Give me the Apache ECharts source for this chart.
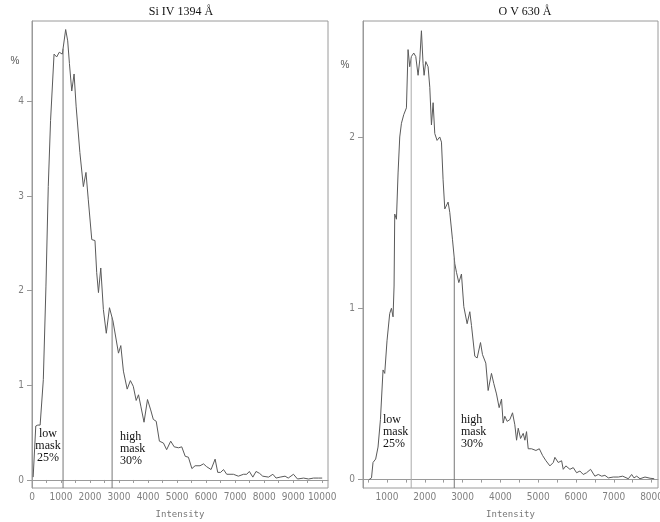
<!DOCTYPE html>
<html><head><meta charset="utf-8">
<script src="https://cdn.jsdelivr.net/npm/echarts@6/dist/echarts.min.js"></script>
<style>html,body{margin:0;padding:0;background:#fff}#c{width:660px;height:522px}</style>
</head><body><div id="c"></div>
<script>
// ---- Si IV 1394 Å histogram ----
const siIntensity = [40,130,200,280,390,480,560,640,760,850,940,1045,1160,1230,1290,1370,1450,1520,1650,1770,1860,1940,2060,2170,2230,2290,2370,2460,2560,2670,2790,2980,3060,3150,3280,3390,3490,3590,3670,3750,3860,3980,4090,4180,4280,4390,4530,4640,4780,4900,5050,5160,5280,5390,5510,5620,5790,5910,6020,6170,6310,6400,6500,6600,6710,6940,7110,7290,7400,7490,7610,7720,7840,7950,8150,8300,8410,8550,8720,8830,9010,9150,9360,9530,9700,9870,10000];
const siPercent   = [0.03,0.57,0.58,0.58,1.06,2.04,3.1,3.8,4.5,4.47,4.52,4.5,4.76,4.64,4.4,4.11,4.29,3.95,3.46,3.1,3.25,2.96,2.54,2.53,2.19,1.98,2.24,1.8,1.55,1.82,1.68,1.34,1.42,1.15,0.96,1.05,0.99,0.84,0.9,0.78,0.61,0.85,0.74,0.64,0.62,0.41,0.39,0.32,0.41,0.35,0.34,0.35,0.25,0.24,0.12,0.15,0.15,0.17,0.14,0.11,0.22,0.08,0.08,0.11,0.06,0.06,0.04,0.06,0.06,0.09,0.03,0.09,0.07,0.04,0.03,0.06,0.02,0.03,0.04,0.02,0.06,0.01,0.02,0.01,0.02,0.02,0.02];
// ---- O V 630 Å histogram ----
const ovIntensity = [525,590,630,700,763,826,895,940,1000,1072,1117,1160,1187,1205,1250,1293,1337,1382,1443,1514,1557,1602,1646,1708,1761,1822,1867,1911,1954,1981,2026,2087,2132,2176,2220,2264,2325,2396,2441,2484,2529,2574,2616,2661,2733,2794,2838,2900,2970,3032,3060,3120,3191,3235,3323,3385,3474,3526,3570,3614,3676,3764,3826,3897,3967,4030,4073,4117,4179,4250,4321,4382,4428,4472,4534,4604,4648,4692,4736,4824,4940,5030,5118,5206,5310,5400,5442,5530,5620,5663,5733,5840,5928,6016,6104,6192,6280,6386,6500,6590,6680,6765,6855,6985,7120,7235,7385,7473,7535,7606,7694,7826,7960,8070];
const ovPercent   = [0.0,0.01,0.10,0.12,0.19,0.35,0.64,0.62,0.81,0.97,1.0,0.95,1.13,1.55,1.52,1.79,2.0,2.08,2.13,2.17,2.51,2.41,2.47,2.49,2.47,2.36,2.45,2.62,2.43,2.36,2.44,2.41,2.29,2.07,2.2,2.02,1.98,2.0,1.97,1.75,1.58,1.57,1.62,1.56,1.40,1.26,1.21,1.15,1.20,1.01,1.0,0.91,0.98,0.90,0.72,0.71,0.80,0.73,0.74,0.68,0.52,0.62,0.56,0.50,0.42,0.47,0.33,0.37,0.34,0.35,0.39,0.32,0.23,0.30,0.24,0.27,0.23,0.28,0.18,0.18,0.17,0.18,0.14,0.11,0.08,0.10,0.13,0.10,0.11,0.06,0.08,0.06,0.07,0.04,0.05,0.03,0.04,0.06,0.02,0.03,0.02,0.025,0.01,0.015,0.015,0.02,0.005,0.03,0.01,0.02,0.005,0.015,0.008,0.005];
// mask thresholds (intensity)
const siMasks = [1070, 2760];
const ovMasks = [1640, 2780];
const maskLabels = ['low\nmask\n25%', 'high\nmask\n30%'];
const titles = ['Si IV 1394 Å', 'O V 630 Å'];
// ticks
const siXTicks  = [0,500,1000,1500,2000,2500,3000,3500,4000,4500,5000,5500,6000,6500,7000,7500,8000,8500,9000,9500,10000];
const siXLabels = [0,1000,2000,3000,4000,5000,6000,7000,8000,9000,10000];
const siYLabels = [0,1,2,3,4];
const ovXTicks  = [500,1000,1500,2000,2500,3000,3500,4000,4500,5000,5500,6000,6500,7000,7500,8000];
const ovXLabels = [1000,2000,3000,4000,5000,6000,7000,8000];
const ovYLabels = [0,1,2];
// axis extents
const siX = [0, 10200], siY = [-0.085, 4.85];
const ovX = [365, 8170], ovY = [-0.049, 2.677];

function zip(a, b) { return a.map((v, i) => [v, b[i]]); }
function valueAt(xs, ys, x) {
  for (let i = 1; i < xs.length; i++) {
    if (x <= xs[i]) { const t = (x - xs[i-1]) / (xs[i] - xs[i-1]); return ys[i-1] + t * (ys[i] - ys[i-1]); }
  }
  return ys[ys.length - 1];
}
const gridCol = '#9a9a9a', lblCol = '#808080';
const lblFont = "'Liberation Sans Narrow','DejaVu Sans Condensed','Liberation Sans',sans-serif";
function xAxis(idx, ext, ticks, labels) {
  return {
    type: 'value', gridIndex: idx, min: ext[0], max: ext[1],
    name: 'Intensity', nameLocation: 'middle', nameGap: 22,
    nameTextStyle: { fontFamily: 'DejaVu Sans Mono', fontSize: 9, color: '#777' },
    axisLine: { show: true, lineStyle: { color: gridCol } },
    axisTick: { show: true, length: 3, customValues: ticks, lineStyle: { color: gridCol } },
    axisLabel: { customValues: labels, margin: 4, fontFamily: lblFont, fontSize: 10, color: lblCol, formatter: v => String(v) },
    splitLine: { show: false }
  };
}
function yAxis(idx, ext, labels) {
  return {
    type: 'value', gridIndex: idx, min: ext[0], max: ext[1],
    axisLine: { show: true, lineStyle: { color: gridCol } },
    axisTick: { show: true, length: 5, customValues: labels, lineStyle: { color: gridCol } },
    axisLabel: { customValues: labels, margin: 8, fontFamily: lblFont, fontSize: 10, color: lblCol, formatter: v => String(v) },
    splitLine: { show: false }
  };
}
function maskSeries(idx, xs, ys, m, yMin, color) {
  return { type: 'line', xAxisIndex: idx, yAxisIndex: idx, symbol: 'none', silent: true,
    data: [[m, yMin], [m, valueAt(xs, ys, m)]], lineStyle: { color: color, width: 1 } };
}
const serif = "'Liberation Serif','DejaVu Serif',serif";
function txt(x, y, text, align, size, lh) {
  return { type: 'text', x: x, y: y, style: { text: text, fill: '#111', font: size + 'px ' + serif, textAlign: align, textVerticalAlign: 'top', lineHeight: lh } };
}
const chart = echarts.init(document.getElementById('c'), null, { renderer: 'canvas' });
chart.setOption({
  animation: false,
  backgroundColor: '#fff',
  grid: [
    { left: 32, top: 21, width: 296, height: 467, show: true, borderColor: gridCol, borderWidth: 1, containLabel: false, outerBoundsMode: 'none' },
    { left: 363, top: 21, width: 295, height: 467, show: true, borderColor: gridCol, borderWidth: 1, containLabel: false, outerBoundsMode: 'none' }
  ],
  xAxis: [xAxis(0, siX, siXTicks, siXLabels), xAxis(1, ovX, ovXTicks, ovXLabels)],
  yAxis: [yAxis(0, siY, siYLabels), yAxis(1, ovY, ovYLabels)],
  series: [
    { type: 'line', xAxisIndex: 0, yAxisIndex: 0, symbol: 'none', data: zip(siIntensity, siPercent), lineStyle: { color: '#5a5a5a', width: 1 } },
    { type: 'line', xAxisIndex: 1, yAxisIndex: 1, symbol: 'none', data: zip(ovIntensity, ovPercent), lineStyle: { color: '#5a5a5a', width: 1 } },
    maskSeries(0, siIntensity, siPercent, siMasks[0], siY[0], '#777'),
    maskSeries(0, siIntensity, siPercent, siMasks[1], siY[0], '#777'),
    maskSeries(1, ovIntensity, ovPercent, ovMasks[0], ovY[0], '#aaa'),
    maskSeries(1, ovIntensity, ovPercent, ovMasks[1], ovY[0], '#777')
  ],
  graphic: [
    { type: 'text', x: 181, y: 6, style: { text: titles[0], fill: '#111', font: '12px ' + serif, textAlign: 'center', textVerticalAlign: 'top' } },
    { type: 'text', x: 525, y: 6, style: { text: titles[1], fill: '#111', font: '12px ' + serif, textAlign: 'center', textVerticalAlign: 'top' } },
    { type: 'text', x: 15, y: 61, style: { text: '%', fill: '#555', font: "10px 'Liberation Sans',sans-serif", textAlign: 'center', textVerticalAlign: 'middle' } },
    { type: 'text', x: 345, y: 65, style: { text: '%', fill: '#555', font: "10px 'Liberation Sans',sans-serif", textAlign: 'center', textVerticalAlign: 'middle' } },
    txt(48, 428, maskLabels[0], 'center', 12, 12),
    txt(120, 431, maskLabels[1], 'left', 12, 12),
    txt(383, 414, maskLabels[0], 'left', 12, 12),
    txt(461, 414, maskLabels[1], 'left', 12, 12)
  ]
});
</script></body></html>
